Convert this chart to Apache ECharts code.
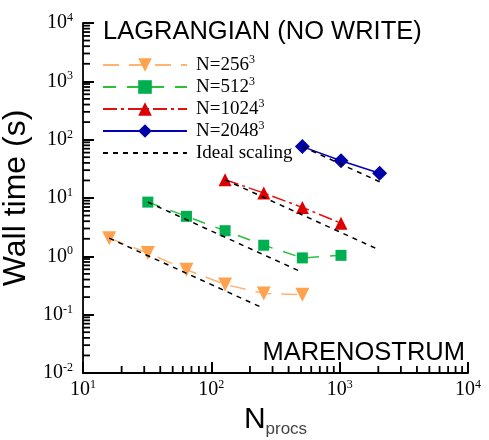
<!DOCTYPE html>
<html>
<head>
<meta charset="utf-8">
<script src="https://cdn.jsdelivr.net/npm/echarts@6/dist/echarts.min.js"></script>
<style>
  html, body { margin: 0; padding: 0; background: #ffffff; }
  #chart { width: 489px; height: 440px; }
</style>
</head>
<body>
<div id="chart"></div>
<script>
// Wall time (s) against processor count, one series per grid size
const procs256 = [16, 32, 64, 128, 256, 512];
const time256 = [2.05, 1.14, 0.59, 0.33, 0.23, 0.22];
const procs512 = [32, 64, 128, 256, 512, 1024];
const time512 = [8.5, 4.85, 2.75, 1.55, 0.94, 1.04];
const procs1024 = [128, 256, 512, 1024];
const time1024 = [20.5, 12.2, 6.9, 3.7];
const procs2048 = [512, 1024, 2048];
const time2048 = [76, 43.5, 26.5];

// Processor count where each ideal-scaling reference line stops
const idealEnd = [256, 512, 2048, 2048];

const seriesNames = ['N=256', 'N=512', 'N=1024', 'N=2048'];
const idealName = 'Ideal scaling';

// Decade ticks of both log axes
const xDecades = [10, 100, 1000, 10000];
const yDecades = [0.01, 0.1, 1, 10, 100, 1000, 10000];

const serif = '"Liberation Serif", "DejaVu Serif", serif';
const sans = '"Liberation Sans", Arial, sans-serif';

function pairs(xs, ys) { return xs.map((x, i) => [x, ys[i]]); }

// Minor ticks at 2..9 within each decade
function minorTicks(decades) {
  const out = [];
  for (let i = 0; i < decades.length - 1; i++) {
    for (let k = 2; k <= 9; k++) out.push(+(decades[i] * k).toPrecision(6));
  }
  return out;
}

function powLabel(v) {
  const e = Math.round(Math.log10(v));
  return '{b|10}{s|' + e + '}';
}

const powRich = {
  b: { fontFamily: serif, fontSize: 20, color: '#000' },
  s: { fontFamily: serif, fontSize: 12, color: '#000', padding: [0, 0, 10, 0] }
};

const groups = [
  { name: seriesNames[0], x: procs256, y: time256, color: '#ffa24f', line: '#ffb473', symbol: 'triangle', rotate: 180, size: 14, dash: [16, 10] },
  { name: seriesNames[1], x: procs512, y: time512, color: '#00b050', line: '#2dbf3a', symbol: 'rect', rotate: 0, size: 11, dash: [13, 11] },
  { name: seriesNames[2], x: procs1024, y: time1024, color: '#dd0000', line: '#e01010', symbol: 'triangle', rotate: 0, size: 13, dash: [14, 4, 3, 4] },
  { name: seriesNames[3], x: procs2048, y: time2048, color: '#0000a8', line: '#0000b4', symbol: 'diamond', rotate: 0, size: 15, dash: 'solid' }
];

const series = groups.map(g => ({
  name: g.name,
  type: 'line',
  data: pairs(g.x, g.y),
  symbol: g.symbol,
  symbolRotate: g.rotate,
  symbolSize: g.size,
  showAllSymbol: true,
  itemStyle: { color: g.color },
  lineStyle: { color: g.line, width: 1.5, type: g.dash },
  z: 3
}));

// Ideal scaling: time falls as 1/N_procs from each series' first point
groups.forEach((g, i) => {
  const p0 = g.x[0], t0 = g.y[0], p1 = idealEnd[i];
  series.push({
    name: idealName,
    type: 'line',
    data: [[p0, t0], [p1, t0 * p0 / p1]],
    symbol: 'circle',
    symbolSize: 0,
    showSymbol: false,
    itemStyle: { color: '#000', opacity: 0 },
    lineStyle: { color: '#000', width: 1.5, type: [5, 5], opacity: 1 },
    z: 4
  });
});

// Minor ticks (2..9 per decade) drawn inward from both axis lines
const xMin = xDecades[0], yMin = yDecades[0];
const minorLen = 7;
series.push({
  type: 'custom',
  silent: true,
  clip: false,
  z: 5,
  data: minorTicks(xDecades).map(v => [v, yMin]),
  renderItem: (params, api) => {
    const p = api.coord([api.value(0), api.value(1)]);
    return { type: 'line', shape: { x1: p[0], y1: p[1], x2: p[0], y2: p[1] - minorLen }, style: { stroke: '#000', lineWidth: 1.8 } };
  }
});
series.push({
  type: 'custom',
  silent: true,
  clip: false,
  z: 5,
  data: minorTicks(yDecades).map(v => [xMin, v]),
  renderItem: (params, api) => {
    const p = api.coord([api.value(0), api.value(1)]);
    return { type: 'line', shape: { x1: p[0], y1: p[1], x2: p[0] + minorLen, y2: p[1] }, style: { stroke: '#000', lineWidth: 1.8 } };
  }
});

const chart = echarts.init(document.getElementById('chart'), null, { renderer: 'canvas' });
chart.setOption({
  animation: false,
  backgroundColor: '#ffffff',
  grid: { left: 83, right: 21, top: 23, bottom: 67, containLabel: false, outerBoundsMode: 'none' },
  legend: {
    orient: 'vertical',
    left: 97,
    top: 49,
    itemWidth: 84,
    itemHeight: 17,
    itemGap: 0,
    data: seriesNames.concat([{ name: idealName, itemStyle: { opacity: 0 } }]),
    formatter: name => name === idealName ? '{t|' + name + '}{s| }' : '{t|' + name + '}{s|3}',
    textStyle: {
      color: '#000',
      padding: [0, 0, 0, 4],
      rich: {
        t: { fontFamily: serif, fontSize: 19, color: '#000', lineHeight: 17 },
        s: { fontFamily: serif, fontSize: 12, color: '#000', lineHeight: 12, padding: [0, 0, 10, 0] }
      }
    }
  },
  xAxis: {
    type: 'log', logBase: 10, min: xDecades[0], max: xDecades[xDecades.length - 1],
    axisLine: { show: true, lineStyle: { color: '#000', width: 1.8 } },
    axisTick: { show: true, inside: true, length: 11, lineStyle: { color: '#000', width: 2 } },
    axisLabel: { formatter: powLabel, rich: powRich, margin: 6 },
    splitLine: { show: false },
    name: '{n|N}{p|procs}',
    nameLocation: 'middle',
    nameGap: 24,
    nameTextStyle: {
      rich: {
        n: { fontFamily: sans, fontSize: 30, color: '#000' },
        p: { fontFamily: sans, fontSize: 17, color: '#444', padding: [18, 0, 0, 0] }
      }
    }
  },
  yAxis: {
    type: 'log', logBase: 10, min: yDecades[0], max: yDecades[yDecades.length - 1],
    axisLine: { show: true, lineStyle: { color: '#000', width: 1.8 } },
    axisTick: { show: true, inside: true, length: 11, lineStyle: { color: '#000', width: 2 } },
    axisLabel: { formatter: powLabel, rich: powRich, margin: 10 },
    splitLine: { show: false },
    name: 'Wall time (s)',
    nameLocation: 'middle',
    nameRotate: 90,
    nameGap: 30,
    nameTextStyle: { fontFamily: sans, fontSize: 32, color: '#000' }
  },
  graphic: [
    {
      type: 'text', left: 103, top: 19,
      style: { text: 'LAGRANGIAN (NO WRITE)', fontFamily: sans, fontSize: 25.5, fill: '#000' }
    },
    {
      type: 'text', right: 24, top: 340,
      style: { text: 'MARENOSTRUM', fontFamily: sans, fontSize: 25.5, fill: '#000' }
    }
  ],
  series: series
});
</script>
</body>
</html>
